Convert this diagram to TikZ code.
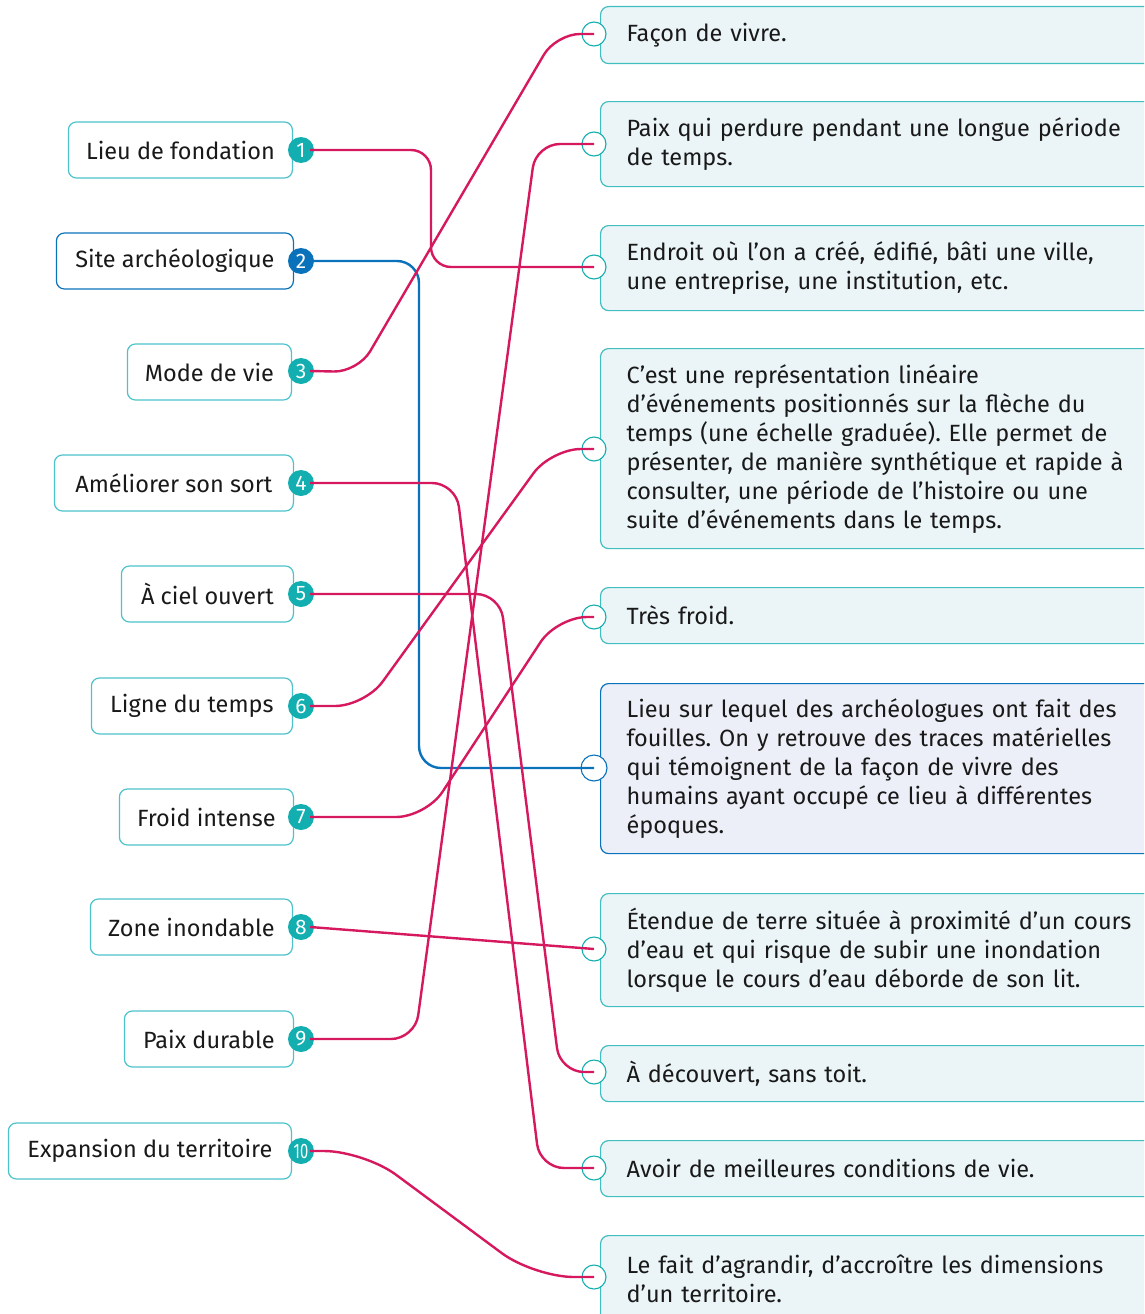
\documentclass[tikz,border=0pt]{standalone}
\usepackage{fontspec}
\setmainfont{Fira Sans}
\usepackage{graphicx}
\frenchspacing
\definecolor{mag}{HTML}{D6185E}
\definecolor{teal}{HTML}{12AEB0}
\definecolor{tealline}{HTML}{4CC3CB}
\definecolor{tealfill}{HTML}{EBF5F7}
\definecolor{blu}{HTML}{0A72BA}
\definecolor{blufill}{HTML}{ECEFF8}
\begin{document}
\begin{tikzpicture}[x=1pt,y=-1pt,
  lbox/.style={draw=tealline,line width=1.2pt,rounded corners=8pt,fill=white,minimum height=56pt,anchor=east,inner xsep=0pt,font=\fontsize{23.5}{27}\selectfont,text=black!90},
  numc/.style={circle,fill=teal,minimum size=26pt,inner sep=0pt,text=white,font=\fontsize{21}{21}\selectfont},
  rbox/.style={draw=teal!80,line width=1.2pt,rounded corners=8pt,fill=tealfill,anchor=north west,inner xsep=26pt,inner ysep=0pt,text width=580pt,align=left,font=\fontsize{23.5}{29}\selectfont,text=black!90},
  sock/.style={circle,draw=teal,fill=white,line width=1.1pt,minimum size=24pt,inner sep=0pt},
  conn/.style={draw=mag,line width=2.4pt,rounded corners=24pt},
]
\useasboundingbox (0,0) rectangle (1144,1314);
\clip (0,0) rectangle (1144,1314);

% right boxes
\node[rbox,minimum height=57pt] (R1) at (600,6) {Façon de vivre.};
\node[rbox,minimum height=85pt] (R2) at (600,101) {Paix qui perdure pendant une longue période\\de temps.};
\node[rbox,minimum height=85pt] (R3) at (600,225) {Endroit où l’on a créé, édifié, bâti une ville,\\une entreprise, une institution, etc.};
\node[rbox,minimum height=200pt] (R4) at (600,348) {C’est une représentation linéaire\\d'événements positionnés sur la flèche du\\temps (une échelle graduée). Elle permet de\\présenter, de manière synthétique et rapide à\\consulter, une période de l’histoire ou une\\suite d’événements dans le temps.};
\node[rbox,minimum height=56pt] (R5) at (600,587) {Très froid.};
\node[rbox,minimum height=170pt,draw=blu,fill=blufill] (R6) at (600,683) {Lieu sur lequel des archéologues ont fait des\\fouilles. On y retrouve des traces matérielles\\qui témoignent de la façon de vivre des\\humains ayant occupé ce lieu à différentes\\époques.};
\node[rbox,minimum height=113pt] (R7) at (600,893) {Étendue de terre située à proximité d’un cours\\d’eau et qui risque de subir une inondation\\lorsque le cours d’eau déborde de son lit.};
\node[rbox,minimum height=56pt] (R8) at (600,1045) {À découvert, sans toit.};
\node[rbox,minimum height=56pt] (R9) at (600,1140) {Avoir de meilleures conditions de vie.};
\node[rbox,minimum height=87pt] (R10) at (600,1235) {Le fait d’agrandir, d’accroître les dimensions\\d’un territoire.};

% sockets
\node[sock] (S1) at (594,34) {};
\node[sock] (S2) at (594,144) {};
\node[sock] (S3) at (594,267) {};
\node[sock] (S4) at (594,449) {};
\node[sock] (S5) at (594,617) {};
\node[sock,draw=blu,minimum size=26pt] (S6) at (594,768) {};
\node[sock] (S7) at (594,949) {};
\node[sock] (S8) at (594,1072) {};
\node[sock] (S9) at (594,1168) {};
\node[sock] (S10) at (594,1277) {};

% left boxes
\node[lbox,minimum width=224pt] (L1) at (293,150) {Lieu de fondation};
\node[lbox,minimum width=237pt,draw=blu] (L2) at (294,261) {Site archéologique};
\node[lbox,minimum width=164pt] (L3) at (292,372) {Mode de vie};
\node[lbox,minimum width=239pt] (L4) at (294,483) {Améliorer son sort};
\node[lbox,minimum width=172pt] (L5) at (294,594) {À ciel ouvert};
\node[lbox,minimum width=201pt] (L6) at (293,706) {Ligne du temps};
\node[lbox,minimum width=174pt] (L7) at (294,817) {Froid intense};
\node[lbox,minimum width=202pt] (L8) at (293,927) {Zone inondable};
\node[lbox,minimum width=169pt] (L9) at (294,1039) {Paix durable};
\node[lbox,minimum width=283pt] (L10) at (292,1151) {Expansion du territoire};

% number circles
\node[numc] (N1) at (301,150) {1};
\node[numc,fill=blu] (N2) at (301,261) {2};
\node[numc] (N3) at (301,371) {3};
\node[numc] (N4) at (301,483) {4};
\node[numc] (N5) at (301,594) {5};
\node[numc] (N6) at (301,706) {6};
\node[numc] (N7) at (301,817) {7};
\node[numc] (N8) at (301,927) {8};
\node[numc] (N9) at (301,1039) {9};
\node[numc] (N10) at (301,1151) {\scalebox{0.7}[1]{10}};

% connectors
\draw[conn,rounded corners=20pt] ([xshift=-4pt]N1.east) -- (431,150) -- (431,267) -- (S3.center);
\draw[conn,draw=blu,rounded corners=22pt] ([xshift=-4pt]N2.east) -- (419,261) -- (419,768) -- (S6.center);
\draw[conn] ([xshift=-4pt]N3.east) -- (358,372) -- (556,34) -- (S1.center);
\draw[conn] ([xshift=-4pt]N4.east) -- (456,483) -- (540,1168) -- (S9.center);
\draw[conn] ([xshift=-4pt]N5.east) -- (500,594) -- (560,1072) -- (S8.center);
\draw[conn,rounded corners=30pt] ([xshift=-4pt]N6.east) -- (365,706) -- (551,449) -- (S4.center);
\draw[conn,rounded corners=30pt] ([xshift=-4pt]N7.east) -- (426,817) -- (557,617) -- (S5.center);
\draw[conn] ([xshift=-4pt]N8.east) -- (S7.center);
\draw[conn] ([xshift=-4pt]N9.east) -- (415,1039) -- (536,144) -- (S2.center);
\draw[conn,rounded corners=40pt] ([xshift=-4pt]N10.east) -- (364,1151) -- (534,1277) -- (S10.center);
\end{tikzpicture}
\end{document}
